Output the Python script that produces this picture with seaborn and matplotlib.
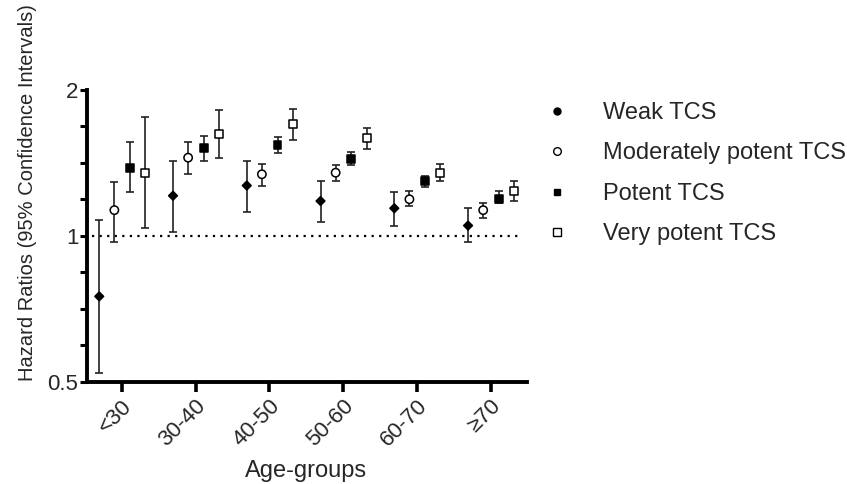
import numpy as np
import pandas as pd
import matplotlib
matplotlib.use("Agg")
import matplotlib.pyplot as plt
import matplotlib.ticker as mticker
from matplotlib.lines import Line2D
import seaborn as sns

# ---- data ----
age_groups = ["<30", "30-40", "40-50", "50-60", "60-70", "\u226570"]
series = ["Weak TCS", "Moderately potent TCS", "Potent TCS", "Very potent TCS"]

weak_hr = [0.75, 1.21, 1.27, 1.18, 1.14, 1.05]
weak_lo = [0.52, 1.02, 1.12, 1.07, 1.05, 0.97]
weak_hi = [1.08, 1.43, 1.43, 1.30, 1.23, 1.14]

mod_hr = [1.13, 1.45, 1.34, 1.35, 1.19, 1.13]
mod_lo = [0.97, 1.34, 1.27, 1.30, 1.15, 1.09]
mod_hi = [1.29, 1.56, 1.41, 1.40, 1.24, 1.17]

pot_hr = [1.38, 1.52, 1.54, 1.44, 1.30, 1.19]
pot_lo = [1.23, 1.43, 1.48, 1.40, 1.26, 1.17]
pot_hi = [1.56, 1.61, 1.60, 1.49, 1.33, 1.24]

vp_hr = [1.35, 1.62, 1.70, 1.59, 1.35, 1.24]
vp_lo = [1.04, 1.45, 1.58, 1.51, 1.30, 1.18]
vp_hi = [1.76, 1.82, 1.83, 1.67, 1.41, 1.30]

hr_all = [weak_hr, mod_hr, pot_hr, vp_hr]
lo_all = [weak_lo, mod_lo, pot_lo, vp_lo]
hi_all = [weak_hi, mod_hi, pot_hi, vp_hi]

# ---- style ----
sns.set_theme(style="ticks")
plt.rcParams["font.family"] = ["Liberation Sans", "DejaVu Sans"]

offsets = [-0.305, -0.1, 0.112, 0.32]
rows = []
for si, s in enumerate(series):
    for gi, g in enumerate(age_groups):
        rows.append({"series": s, "group": g, "pos": gi + offsets[si],
                     "hr": hr_all[si][gi], "lo": lo_all[si][gi], "hi": hi_all[si][gi]})
df = pd.DataFrame(rows)

fig = plt.figure(figsize=(8.47, 4.84), dpi=100)
ax = fig.add_axes([86.7 / 847, 1 - 381.7 / 484, 440 / 847, 291.7 / 484])

ax.set_yscale("log", base=2)

# reference line at 1
ax.axhline(1.0, color="black", lw=1.6, linestyle=(0, (1, 2.4)), xmin=0.012, xmax=0.99, zorder=1)

# error bars
for s in series:
    d = df[df["series"] == s]
    ax.errorbar(d["pos"], d["hr"], yerr=[d["hr"] - d["lo"], d["hi"] - d["hr"]],
                fmt="none", ecolor="#222222", elinewidth=1.2, capsize=2.6, capthick=1.2, zorder=2)

markers = {"Weak TCS": "D", "Moderately potent TCS": "o", "Potent TCS": "s", "Very potent TCS": "s"}
palette = {"Weak TCS": "black", "Moderately potent TCS": "white",
           "Potent TCS": "black", "Very potent TCS": "white"}
sizes = {"Weak TCS": 20, "Moderately potent TCS": 36, "Potent TCS": 32, "Very potent TCS": 32}
sns.scatterplot(data=df, x="pos", y="hr", hue="series", style="series", size="series",
                markers=markers, palette=palette, sizes=sizes, edgecolor="black", linewidth=1.1,
                legend=False, ax=ax, zorder=3)

ax.set_xlim(-0.475, 5.49)
ax.set_ylim(0.5, 2)
ax.set_xticks(range(len(age_groups)))
ax.set_xticklabels(age_groups, rotation=45, ha="right", rotation_mode="anchor", fontsize=16)

ax.yaxis.set_major_locator(mticker.FixedLocator([0.5, 1, 2]))
ax.yaxis.set_major_formatter(mticker.FixedFormatter(["0.5", "1", "2"]))
ax.yaxis.set_minor_locator(mticker.FixedLocator([2 ** (k / 4) for k in range(-3, 4) if k != 0]))
ax.yaxis.set_minor_formatter(mticker.NullFormatter())
ax.tick_params(axis="y", which="major", labelsize=16, width=2.2, length=5, pad=1, color="black")
ax.tick_params(axis="y", which="minor", width=2.2, length=5, color="black")
ax.tick_params(axis="x", which="major", width=2.6, length=7, pad=3, color="black")
ax.tick_params(axis="x", which="minor", bottom=False)

for side in ["top", "right"]:
    ax.spines[side].set_visible(False)
for side in ["left", "bottom"]:
    ax.spines[side].set_linewidth(2.8)
    ax.spines[side].set_color("black")

ax.set_xlabel("Age-groups", fontsize=17)
ax.xaxis.set_label_coords(0.498, -0.27)
ax.set_ylabel("Hazard Ratios (95% Confidence Intervals)", fontsize=14.5)
ax.yaxis.set_label_coords(-0.113, 0.65)

handles = [
    Line2D([], [], marker="o", color="none", markerfacecolor="black", markeredgecolor="black", markersize=5),
    Line2D([], [], marker="o", color="none", markerfacecolor="white", markeredgecolor="black", markersize=5.5, markeredgewidth=1),
    Line2D([], [], marker="s", color="none", markerfacecolor="black", markeredgecolor="black", markersize=5),
    Line2D([], [], marker="s", color="none", markerfacecolor="white", markeredgecolor="black", markersize=5.5, markeredgewidth=1),
]
fig.legend(handles, series, loc="upper left", bbox_to_anchor=(545.5 / 847, 1 - 102 / 484),
           frameon=False, fontsize=17, handlelength=1.0, handletextpad=1.45,
           labelspacing=0.78, borderpad=0, borderaxespad=0)

fig.savefig("out.png", dpi=100)
